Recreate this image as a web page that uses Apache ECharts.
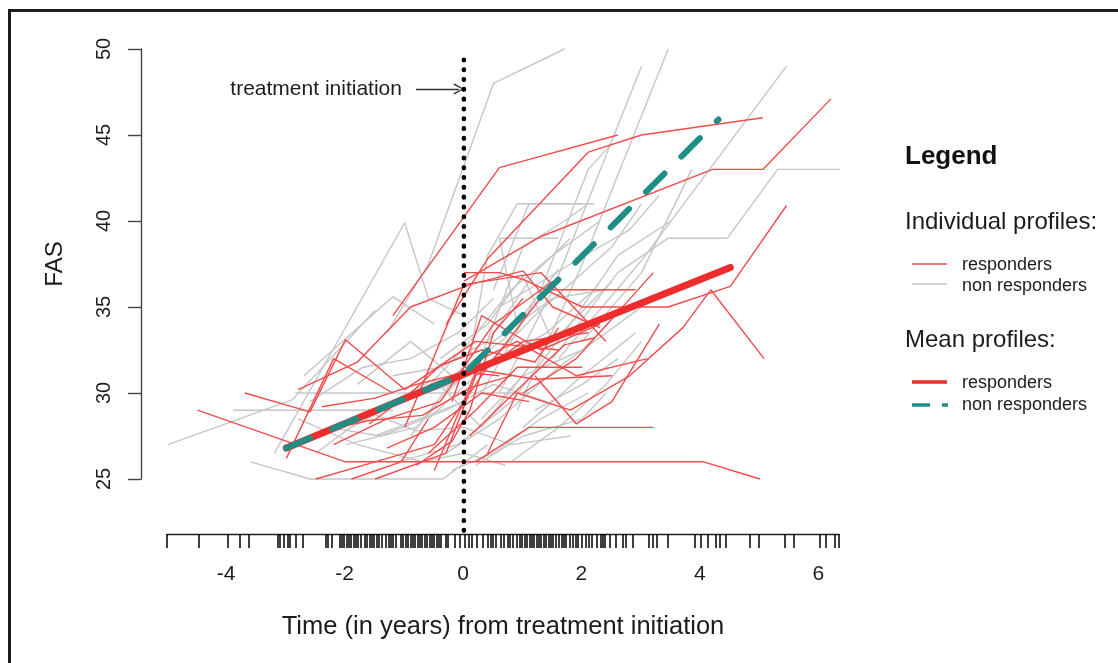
<!DOCTYPE html>
<html><head><meta charset="utf-8">
<script src="https://cdn.jsdelivr.net/npm/echarts@6/dist/echarts.min.js"></script>
<style>html,body{margin:0;padding:0;background:#fff}#c{width:1118px;height:663px}</style>
</head><body><div id="c"></div><script>
// ---------- data ----------
const responderProfiles = [
  [[-1.2,34.5],[0.6,43.1],[2.6,45.0]],
  [[-0.3,34.0],[0.4,37.8],[2.1,44.0],[3.0,45.0],[5.05,46.0]],
  [[0.0,36.5],[1.3,39.1],[4.2,43.0],[5.05,43.0],[6.2,47.1]],
  [[0.0,37.0],[0.6,37.0],[1.0,36.6],[2.0,35.0],[3.45,35.0],[4.5,36.2],[5.45,40.9]],
  [[0.2,26.0],[1.1,28.0],[3.2,28.0]],
  [[-4.5,29.0],[-2.0,26.0],[4.05,26.0],[5.0,25.0]],
  [[-3.7,30.0],[-2.6,28.9],[-2.0,33.1],[-1.0,30.2],[0.2,33.0],[1.6,32.5]],
  [[1.2,31.0],[1.9,28.2],[2.5,29.5],[3.3,34.0]],
  [[2.8,31.0],[3.7,33.8],[4.17,36.0],[5.07,32.0]],
  [[-1.5,25.0],[-0.3,26.5],[0.2,31.0],[1.0,33.0],[2.1,33.5]],
  [[-2.5,25.0],[-1.5,26.0],[-0.5,27.0],[0.4,31.5],[1.4,36.0],[2.9,36.0]],
  [[-1.0,28.0],[0.0,36.3],[1.3,37.0],[2.4,33.0]],
  [[-2.8,30.2],[-1.8,31.8],[-0.9,35.0],[0.1,36.3],[1.0,37.1],[1.5,35.0],[2.3,33.8]],
  [[-0.5,25.5],[0.3,32.0],[0.9,33.0],[1.9,31.0],[3.1,32.0]],
  [[-2.4,27.8],[-1.6,28.4],[-0.7,28.7],[0.1,30.3],[0.8,31.0]],
  [[-0.2,29.5],[0.3,34.5],[1.3,32.5],[2.3,34.0]],
  [[-3.0,26.2],[-2.2,32.0],[-1.2,30.0]],
  [[0.4,26.5],[0.9,30.0],[1.8,29.0],[2.8,31.0]],
  [[-1.6,28.2],[-0.9,30.0],[-0.4,31.6],[0.3,32.5],[1.2,31.8],[1.6,33.8]],
  [[-0.8,25.8],[-0.2,27.2],[0.1,29.0],[0.5,33.5],[1.0,35.5]],
  [[0.0,31.5],[1.2,30.8],[2.5,31.0]],
  [[-2.4,29.2],[-1.5,29.7],[-0.8,30.5],[0.0,31.2],[0.6,31.0]],
  [[1.0,30.0],[1.9,32.0],[3.2,37.0]],
  [[-1.9,25.0],[-1.06,26.0],[-0.6,28.5]],
  [[-2.2,27.0],[-1.3,28.5],[-0.4,29.5],[0.5,34.0],[1.5,36.5]],
  [[-0.6,26.5],[0.2,29.0],[0.9,31.5],[2.0,31.5]],
  [[0.1,27.5],[0.7,29.5],[1.7,32.8],[2.2,33.2]],
  [[-1.3,26.8],[-0.5,28.0],[0.3,30.0],[1.1,29.5]]
];
const nonResponderProfiles = [
  [[-1.3,33.5],[-0.6,37.5],[0.5,48.0],[1.7,50.0]],
  [[0.6,30.0],[1.5,36.0],[3.0,49.0]],
  [[0.9,29.0],[2.0,37.5],[3.45,50.0]],
  [[1.6,32.0],[3.0,37.7],[5.45,49.0]],
  [[1.5,32.0],[2.6,37.0],[3.45,39.0],[4.45,39.0],[5.3,43.0],[6.35,43.0]],
  [[2.0,33.0],[3.0,37.0],[3.85,43.0]],
  [[0.5,36.0],[1.1,41.0],[2.2,41.0]],
  [[0.9,34.0],[0.6,39.0],[1.6,39.0]],
  [[-5.0,27.0],[-2.9,29.6],[-1.5,34.8]],
  [[-3.9,29.0],[-1.2,29.0]],
  [[-2.85,30.0],[1.1,30.0]],
  [[-3.6,26.0],[-2.6,25.0],[-0.35,25.0],[0.4,27.0]],
  [[-3.2,26.5],[-1.0,39.9],[-0.6,35.5],[0.0,34.5]],
  [[-2.7,31.0],[-1.2,35.6],[-0.5,34.0]],
  [[-2.0,27.0],[-0.8,28.0],[0.5,33.0],[1.5,35.5],[2.4,36.0]],
  [[-1.5,27.5],[0.0,29.5],[1.0,38.5],[1.7,40.0],[2.1,41.0]],
  [[-0.6,28.5],[0.2,31.0],[1.2,34.5],[2.5,38.5],[3.0,41.0]],
  [[-0.3,26.5],[0.6,28.5],[1.6,31.5],[2.8,34.5],[3.2,35.5]],
  [[0.2,25.8],[1.0,27.5],[2.0,28.5],[2.4,30.0]],
  [[-2.3,28.0],[-1.4,27.5],[-0.3,29.0],[0.5,30.5],[1.4,29.5]],
  [[-1.8,30.5],[-0.9,33.0],[-0.2,31.0],[0.7,33.2],[1.6,37.2]],
  [[-2.5,26.5],[-1.6,28.8],[-0.5,30.8],[0.3,28.0],[1.1,31.5]],
  [[-1.1,26.0],[-0.1,27.0],[0.8,29.5],[1.8,34.0],[2.6,38.0],[3.5,40.0]],
  [[-0.9,27.5],[0.1,32.0],[0.4,38.0],[0.9,41.0],[2.0,41.0]],
  [[0.3,30.0],[1.3,36.0],[2.1,43.0],[2.5,44.5]],
  [[-2.8,28.5],[-1.8,27.0],[-0.7,26.0],[0.0,26.5],[0.7,25.8]],
  [[-0.4,32.0],[0.4,34.0],[1.0,36.8],[1.5,33.0],[2.5,36.5]],
  [[1.0,28.0],[2.0,31.0],[2.9,33.5]],
  [[-1.7,29.0],[-0.8,27.8],[0.0,28.0],[0.8,27.0],[1.8,27.5]],
  [[0.6,35.0],[1.8,37.5],[2.8,39.5],[3.3,41.5]],
  [[-1.9,28.0],[-1.1,29.5],[-0.2,30.5],[0.6,32.0],[1.4,33.5],[2.2,36.0]],
  [[-0.7,30.0],[0.1,33.0],[0.8,36.0],[1.5,38.0],[2.3,40.0]],
  [[0.3,28.5],[1.0,31.0],[2.0,32.5],[2.7,35.0]],
  [[-2.6,29.5],[-1.7,31.5],[-0.9,32.0],[-0.1,33.5],[0.5,35.5]],
  [[1.2,29.0],[2.0,30.5],[2.6,32.0]],
  [[-1.2,31.0],[-0.4,31.5],[0.4,33.0],[1.2,37.0],[1.8,39.0]],
  [[0.8,26.0],[1.6,28.0],[2.4,30.5],[3.0,33.0]],
  [[-0.2,25.5],[0.5,26.5],[1.3,28.5],[2.1,30.0]]
];
const meanResponders = [[-3.0,26.8],[0.0,31.1],[4.5,37.3]];
const meanNonResponders = [[-3.0,26.8],[0.0,31.1],[4.3,45.9]];
const treatmentLine = [[0,22.0],[0,49.5]];
const arrowFrom = [-0.81,47.67], arrowTo = [-0.085,47.67];
const rugTimes = [-5.0,-4.47,-3.97,-3.77,-3.62,-3.13,-3.09,-3.03,-2.96,-2.92,-2.82,-2.71,-2.32,-2.28,-2.22,-2.08,-2.05,-2.01,-1.97,-1.93,-1.89,-1.85,-1.81,-1.77,-1.73,-1.66,-1.62,-1.58,-1.54,-1.5,-1.46,-1.42,-1.38,-1.3,-1.26,-1.22,-1.18,-1.14,-1.05,-1.01,-0.97,-0.93,-0.89,-0.85,-0.81,-0.77,-0.73,-0.69,-0.65,-0.61,-0.57,-0.53,-0.49,-0.45,-0.41,-0.37,-0.3,-0.25,-0.14,-0.06,0.03,0.1,0.14,0.23,0.33,0.41,0.47,0.51,0.56,0.63,0.68,0.75,0.79,0.84,0.9,0.95,1.0,1.04,1.08,1.12,1.16,1.2,1.24,1.28,1.32,1.36,1.4,1.44,1.48,1.52,1.57,1.62,1.66,1.7,1.74,1.8,1.86,1.9,1.94,2.0,2.08,2.13,2.18,2.25,2.32,2.36,2.4,2.47,2.58,2.7,2.75,2.86,3.13,3.2,3.27,3.45,3.91,4.02,4.14,4.26,4.33,4.43,4.84,5.0,5.43,5.58,6.03,6.13,6.28,6.35];
const xTickLabels = [-4,-2,0,2,4,6];
const yTickLabels = [25,30,35,40,45,50];

// ---------- styles ----------
const RED = '#F24B4B', GRAY = '#C6C6C6', MEANRED = '#EE2C2C', TEAL = '#1E8E86', INK = '#1c1c1c';
const FONT = '"Liberation Sans", Arial, sans-serif';

const series = [];
nonResponderProfiles.forEach(p => series.push({type:'line', data:p, xAxisIndex:0, yAxisIndex:0, showSymbol:false, symbol:'none', silent:true, clip:false, lineStyle:{color:GRAY, width:1.4}, z:2}));
responderProfiles.forEach(p => series.push({type:'line', data:p, xAxisIndex:0, yAxisIndex:0, showSymbol:false, symbol:'none', silent:true, clip:false, lineStyle:{color:RED, width:1.4}, z:3}));
series.push({type:'line', data:meanResponders, symbol:'none', silent:true, clip:false, lineStyle:{color:MEANRED, width:7, cap:'round'}, z:5});
series.push({type:'line', data:meanNonResponders, symbol:'none', silent:true, clip:false, lineStyle:{color:TEAL, width:6, type:[26,24], cap:'round'}, z:6});
series.push({type:'line', data:treatmentLine, symbol:'none', silent:true, clip:false, lineStyle:{color:'#000', width:4.6, type:[0.5,9.3], cap:'round'}, z:7,
  markLine:{silent:true, symbol:['none','path://M6,0 L12,10 L10.6,11 L6,2.6 L1.4,11 L0,10 Z'], symbolSize:[11,11],
    lineStyle:{color:'#333', width:1.3, type:'solid'},
    label:{show:true, position:'start', formatter:'treatment initiation', color:INK, fontSize:21, fontFamily:FONT, distance:14},
    data:[[{coord:arrowFrom},{coord:arrowTo}]]}});

const chart = echarts.init(document.getElementById('c'), null, {renderer:'canvas'});
chart.setOption({
  animation:false,
  backgroundColor:'#fff',
  grid:[
    {left:141, top:49, width:725.7, height:430},
    {left:167, top:533, width:672, height:1}
  ],
  xAxis:[
    {gridIndex:0, type:'value', min:-5.454, max:6.804, show:false},
    {gridIndex:1, type:'value', min:-5, max:6.35, position:'bottom',
      axisLine:{show:true, onZero:false, lineStyle:{color:'#222', width:1.4}},
      axisTick:{show:true, customValues:rugTimes, length:14, inside:false, lineStyle:{color:'#000', width:1.5}},
      axisLabel:{show:true, customValues:xTickLabels, margin:30, fontSize:21, color:INK, fontFamily:FONT},
      splitLine:{show:false},
      name:'Time (in years) from treatment initiation', nameLocation:'middle', nameGap:80,
      nameTextStyle:{fontSize:25.5, color:INK, fontFamily:FONT}}
  ],
  yAxis:[
    {gridIndex:0, type:'value', min:25, max:50, interval:5,
      axisLine:{show:true, onZero:false, lineStyle:{color:'#444', width:1.4}},
      axisTick:{show:true, length:13, lineStyle:{color:'#444', width:1.4}},
      axisLabel:{rotate:90, margin:27, fontSize:20, color:INK, fontFamily:FONT},
      splitLine:{show:false},
      name:'FAS', nameLocation:'middle', nameRotate:90, nameGap:74,
      nameTextStyle:{fontSize:24, color:INK, fontFamily:FONT}},
    {gridIndex:1, type:'value', show:false}
  ],
  series:series,
  graphic:[
    {type:'rect', shape:{x:9.5, y:10.5, width:1200, height:700}, style:{fill:'none', stroke:'#1c1c1c', lineWidth:3}, silent:true},
    {type:'text', style:{x:905, y:157, text:'Legend', font:'bold 26px '+FONT, fill:'#111', verticalAlign:'middle'}},
    {type:'text', style:{x:905, y:222, text:'Individual profiles:', font:'24px '+FONT, fill:INK, verticalAlign:'middle'}},
    {type:'line', shape:{x1:912, y1:264, x2:947, y2:264}, style:{stroke:RED, lineWidth:1.6}},
    {type:'text', style:{x:962, y:265, text:'responders', font:'18px '+FONT, fill:INK, verticalAlign:'middle'}},
    {type:'line', shape:{x1:912, y1:284, x2:947, y2:284}, style:{stroke:GRAY, lineWidth:1.6}},
    {type:'text', style:{x:962, y:286, text:'non responders', font:'18px '+FONT, fill:INK, verticalAlign:'middle'}},
    {type:'text', style:{x:905, y:340, text:'Mean profiles:', font:'24px '+FONT, fill:INK, verticalAlign:'middle'}},
    {type:'line', shape:{x1:912, y1:382, x2:947, y2:382}, style:{stroke:MEANRED, lineWidth:3.5}},
    {type:'text', style:{x:962, y:383, text:'responders', font:'18px '+FONT, fill:INK, verticalAlign:'middle'}},
    {type:'line', shape:{x1:912, y1:405, x2:948, y2:405}, style:{stroke:TEAL, lineWidth:3.5, lineDash:[18,12]}},
    {type:'text', style:{x:962, y:405, text:'non responders', font:'18px '+FONT, fill:INK, verticalAlign:'middle'}}
  ]
});
</script></body></html>
